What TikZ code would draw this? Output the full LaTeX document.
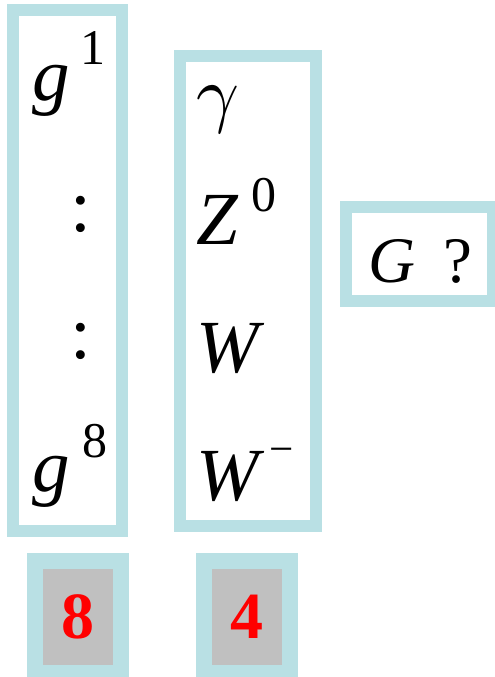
\documentclass[tikz,border=0pt]{standalone}
\usepackage{fontspec}
\setmainfont{Liberation Serif}
\definecolor{frameblue}{RGB}{185,224,228}
\definecolor{cellgray}{RGB}{192,192,192}
\newcommand{\bigsym}{\fontsize{75}{75}\selectfont}
\newcommand{\smallsym}{\fontsize{50}{50}\selectfont}
\tikzset{
  frame/.style={draw=frameblue, line width=12pt, rectangle, inner sep=0pt},
  countbox/.style={draw=frameblue, line width=16pt, fill=cellgray, rectangle, inner sep=0pt,
    minimum width=86pt, minimum height=112pt, text=red,
    font=\fontsize{66}{66}\selectfont\bfseries},
  sym/.style={inner sep=0pt, font=\bigsym\itshape, anchor=base west},
  supsym/.style={inner sep=0pt, font=\smallsym, anchor=base west},
  dots/.style={inner sep=0pt, font=\bigsym, anchor=base},
}
\begin{document}
\begin{tikzpicture}[x=1pt, y=-1pt]
  \useasboundingbox (0,0) rectangle (495,677);
  % frames around the two multiplets and the unknown group
  \node[frame, minimum width=108.5pt, minimum height=521pt] (gluons) at (67.25,270.5) {};
  \node[frame, minimum width=136.5pt, minimum height=470pt] (bosons) at (247.75,291) {};
  \node[frame, minimum width=147pt, minimum height=94.5pt] (unknown) at (419.5,253.75) {};
  % gluon column
  \node[sym] (g1) at (32,100) {g};
  \node[supsym] (g1idx) at (80,65) {1};
  \node[dots] (d1) at (81,231.5) {:};
  \node[dots] (d2) at (81,358.5) {:};
  \node[sym] (g8) at (32,491) {g};
  \node[supsym] (g8idx) at (82,457) {8};
  % electroweak column
  \node[sym] (gam) at (196,118) {\normalsize\scalebox{7.5}{$\gamma$}};
  \node[sym] (z) at (196,244) {Z};
  \node[supsym] (zidx) at (251,211) {0};
  \node[sym] (w) at (196,372) {W};
  \node[sym] (wm) at (196,500) {W};
  \node[supsym, font=\fontsize{43}{43}\selectfont] (wmidx) at (269,463) {−};
  % unknown group
  \node[sym, font=\fontsize{65}{65}\selectfont\itshape] (G) at (368,282) {G};
  \node[sym, font=\fontsize{65}{65}\selectfont] (q) at (443,282) {?};
  % multiplet sizes
  \node[countbox] (n8) at (78,617) {8};
  \node[countbox] (n4) at (246.5,617) {4};
\end{tikzpicture}
\end{document}
